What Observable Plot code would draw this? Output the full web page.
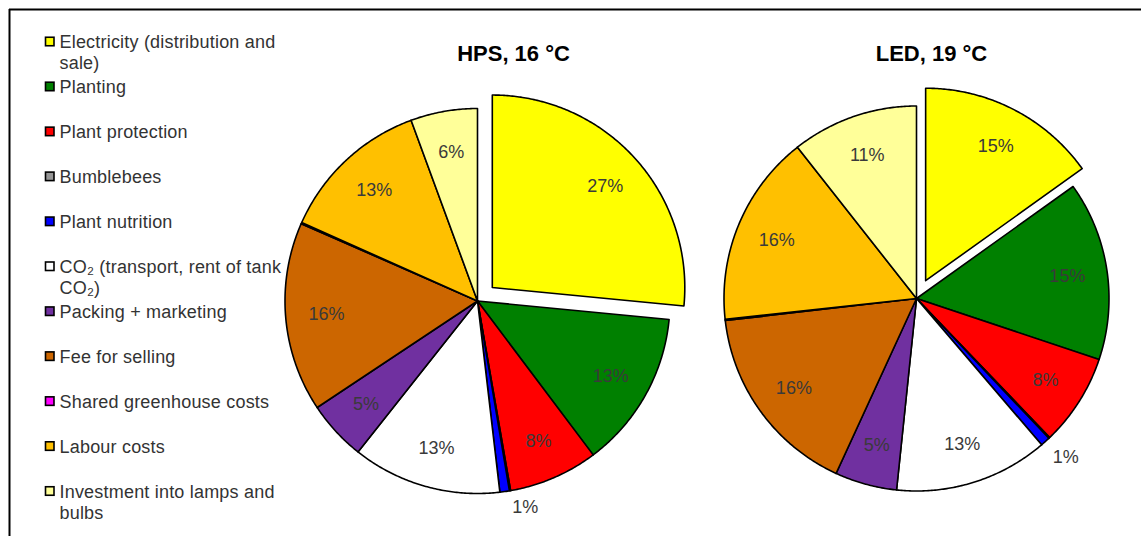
<!DOCTYPE html>
<html>
<head>
<meta charset="utf-8">
<script src="https://cdn.jsdelivr.net/npm/d3@7"></script>
<script src="https://cdn.jsdelivr.net/npm/@observablehq/plot@0.6"></script>
<style>
  html, body { margin: 0; padding: 0; background: #fff; }
  svg { display: block; }
</style>
</head>
<body>
<div id="chart"></div>
<script>
// ---- data ----
const categories = [
  "Electricity (distribution and\nsale)",
  "Planting",
  "Plant protection",
  "Bumblebees",
  "Plant nutrition",
  "CO₂ (transport, rent of tank\nCO₂)",
  "Packing + marketing",
  "Fee for selling",
  "Shared greenhouse costs",
  "Labour costs",
  "Investment into lamps and\nbulbs"
];
const colors = [
  "#FFFF00", "#008000", "#FF0000", "#969696", "#0000FF", "#FFFFFF",
  "#7030A0", "#CC6600", "#FF00FF", "#FFC000", "#FFFF99"
];
const hpsValues = [26.5, 13.2, 7.5, 0.1, 0.8, 12.5, 5.0, 15.9, 0.1, 12.7, 5.6];
const ledValues = [15.1, 15.0, 7.7, 0.1, 0.8, 12.9, 5.2, 16.3, 0.1, 16.1, 10.6];
const pieTitles = ["HPS, 16 °C", "LED, 19 °C"];

// ---- layout ----
const W = 1141, H = 536;
const R = 192.5, EXPLODE = 20;
const pies = [
  {title: pieTitles[0], values: hpsValues, cx: 477.5, cy: 301, tx: 513},
  {title: pieTitles[1], values: ledValues, cx: 916.5, cy: 298.5, tx: 931}
];

const wedgePts = [], sliceLabels = [], titleData = [];
pies.forEach((p, pi) => {
  titleData.push({x: p.tx, y: 53.2, text: p.title});
  const arcs = d3.pie().sort(null).value(d => d)(p.values);
  arcs.forEach((a, i) => {
    const mid = (a.startAngle + a.endAngle) / 2;
    const off = i === 0 ? EXPLODE : 0;
    const ox = p.cx + off * Math.sin(mid), oy = p.cy - off * Math.cos(mid);
    const span = a.endAngle - a.startAngle;
    const n = Math.max(2, Math.ceil(span / (Math.PI / 360)));
    for (let k = 0; k <= n; k++) {
      const t = a.startAngle + span * k / n;
      wedgePts.push({
        key: pi + "-" + i, color: colors[i],
        x1: ox, y1: oy,
        x2: ox + R * Math.sin(t), y2: oy - R * Math.cos(t)
      });
    }
    const v = p.values[i];
    if (v >= 0.5) {
      let x, y;
      if (v < 2) { // outside label, offset from the slice's outer edge
        x = ox + R * Math.sin(mid) + 20;
        y = oy - R * Math.cos(mid) + 15;
      } else {
        const lr = R * 0.79;
        x = ox + lr * Math.sin(mid);
        y = oy - lr * Math.cos(mid);
      }
      sliceLabels.push({x, y, text: Math.round(v) + "%"});
    }
  });
});

const legendData = categories.map((c, i) => ({
  label: c, color: colors[i], cy: 41.5 + 44.95 * i
}));
const LEG_FS = 18, LEG_LH = 1.167;

const chart = Plot.plot({
  width: W, height: H,
  margin: 0,
  x: {domain: [0, W], range: [0, W], axis: null},
  y: {domain: [0, H], range: [0, H], axis: null},
  style: {fontFamily: "'Liberation Sans', Arial, Helvetica, sans-serif", background: "#fff"},
  marks: [
    // outer border (top and left visible)
    Plot.ruleY([9], {x1: 9, x2: W, stroke: "#000", strokeWidth: 2}),
    Plot.ruleX([9], {y1: 9, y2: H, stroke: "#000", strokeWidth: 2}),
    // pie wedges
    Plot.area(wedgePts, {
      x1: "x1", y1: "y1", x2: "x2", y2: "y2", z: "key",
      fill: "color", stroke: "#000", strokeWidth: 1.6, strokeLinejoin: "round"
    }),
    // slice labels
    Plot.text(sliceLabels, {
      x: "x", y: "y", text: "text", fontSize: 18, fill: "#3a3a3a"
    }),
    // pie titles
    Plot.text(titleData, {
      x: "x", y: "y", text: "text", fontSize: 22, fontWeight: "bold", fill: "#000"
    }),
    // legend swatches
    Plot.rect(legendData, {
      x1: 45.5, x2: 54, y1: d => d.cy - 4.25, y2: d => d.cy + 4.25,
      fill: "color", stroke: "#000", strokeWidth: 1.6
    }),
    // legend labels
    Plot.text(legendData, {
      x: 59, y: d => d.cy + 0.36 * LEG_FS - 0.71 * LEG_LH * LEG_FS, text: "label",
      textAnchor: "start", lineAnchor: "top", fontSize: LEG_FS, lineHeight: LEG_LH,
      fill: "#333"
    })
  ]
});
const textGroups = chart.querySelectorAll('g[aria-label="text"]');
textGroups[textGroups.length - 1].setAttribute("letter-spacing", "0.2");
document.getElementById("chart").appendChild(chart);
</script>
</body>
</html>
